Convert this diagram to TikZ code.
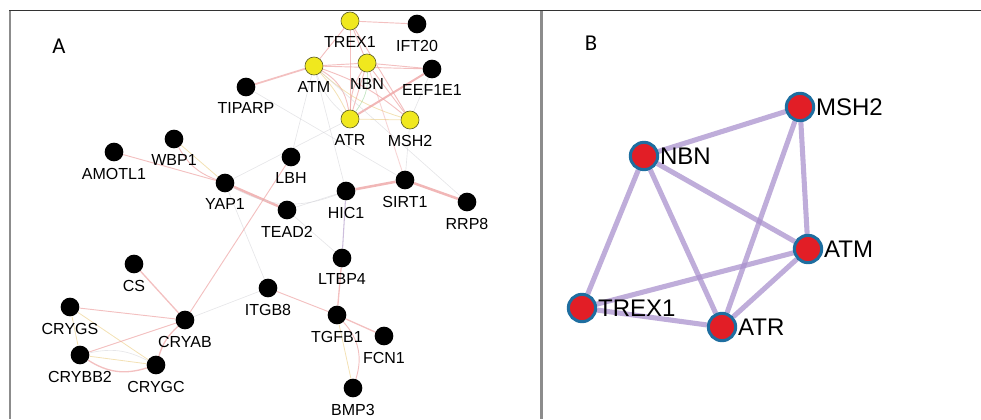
\documentclass[tikz,border=0pt]{standalone}
\usepackage{fontspec}
\setmainfont{Liberation Sans}
\newfontfamily\panelfont{Carlito}
\usetikzlibrary{backgrounds}

\definecolor{pinkE}{RGB}{238,165,165}
\definecolor{grayE}{RGB}{210,210,215}
\definecolor{yelE}{RGB}{235,205,130}
\definecolor{lavE}{RGB}{205,190,220}
\definecolor{genY}{RGB}{240,232,30}
\definecolor{genYline}{RGB}{100,100,40}
\definecolor{hubRed}{RGB}{226,30,38}
\definecolor{hubBlue}{RGB}{30,110,160}
\definecolor{hubEdge}{RGB}{170,145,205}

\tikzset{
  gene/.style={circle,fill=black,inner sep=0pt,minimum size=14pt},
  seed/.style={circle,fill=genY,draw=genYline,line width=0.5pt,inner sep=0pt,minimum size=13.5pt},
  glab/.style={font=\fontsize{12}{12}\selectfont,inner sep=0pt,label distance=4.5pt},
  hub/.style={circle,fill=hubRed,draw=hubBlue,line width=2.3pt,inner sep=0pt,minimum size=20.5pt},
  hlab/.style={font=\fontsize{18}{18}\selectfont,inner sep=0pt,label distance=0.5pt},
  pk/.style={draw=pinkE,line width=0.7pt,opacity=0.7},
  pkt/.style={draw=pinkE,line width=1.9pt,opacity=0.8},
  gy/.style={draw=grayE,line width=0.5pt,opacity=0.55},
  yl/.style={draw=yelE,line width=0.6pt,opacity=0.6},
  lv/.style={draw=lavE,line width=0.8pt},
  hedge/.style={draw=hubEdge,line width=3.8pt,opacity=0.75},
  frameTop/.style={draw=black!80,line width=1.1pt},
  frameSide/.style={draw=black!45,line width=1.6pt},
  panel/.style={font=\panelfont\fontsize{17}{17}\selectfont,inner sep=0pt}
}

\begin{document}
\begin{tikzpicture}[x=0.75pt,y=-0.75pt]
\useasboundingbox (0,0) rectangle (981,419);

% frame
\coordinate (ftl) at (9,10.5);
\coordinate (ftr) at (981,10.5);
\coordinate (fl0) at (10,10);
\coordinate (fl1) at (10,419);
\coordinate (fm0) at (541.5,10);
\coordinate (fm1) at (541.5,419);
\draw[frameSide] (fl0) -- (fl1);
\draw[frameSide] (fm0) -- (fm1);
\draw[frameTop] (ftl) -- (ftr);

\node[panel] (pA) at (59,46) {A};
\node[panel] (pB) at (591,43) {B};

% ---------- network A ----------
\node[seed,label={[glab]below:TREX1}] (trexA) at (350,21) {};
\node[gene,label={[glab]below:IFT20}] (ift) at (417,24) {};
\node[seed,label={[glab]below:ATM}] (atmA) at (314,66) {};
\node[seed,label={[glab]below:NBN}] (nbnA) at (367,63) {};
\node[gene,label={[glab]below:EEF1E1}] (eef) at (432,69) {};
\node[gene,label={[glab]below:TIPARP}] (tip) at (246,87) {};
\node[seed,label={[glab]below:ATR}] (atrA) at (350,119) {};
\node[seed,label={[glab]below:MSH2}] (msh2A) at (410,120) {};
\node[gene,label={[glab]below:WBP1}] (wbp) at (174,139) {};
\node[gene,label={[glab]below:AMOTL1}] (amot) at (114,152) {};
\node[gene,label={[glab]below:LBH}] (lbh) at (291,157) {};
\node[gene,label={[glab]below:YAP1}] (yap) at (225,183) {};
\node[gene,label={[glab]below:SIRT1}] (sirt) at (405,180) {};
\node[gene,label={[glab]below:HIC1}] (hic) at (346,191) {};
\node[gene,label={[glab]below:TEAD2}] (tead) at (287,210) {};
\node[gene,label={[glab]below:RRP8}] (rrp) at (467,202) {};
\node[gene,label={[glab]below:LTBP4}] (ltbp) at (342,258) {};
\node[gene,label={[glab]below:CS}] (cs) at (134,264) {};
\node[gene,label={[glab]below:ITGB8}] (itgb) at (268,288) {};
\node[gene,label={[glab]below:CRYGS}] (crygs) at (70,307) {};
\node[gene,label={[glab]below:CRYAB}] (cryab) at (185,320) {};
\node[gene,label={[glab]below:TGFB1}] (tgfb) at (337,315) {};
\node[gene,label={[glab]below:FCN1}] (fcn) at (384,336) {};
\node[gene,label={[glab]below:CRYBB2}] (crybb) at (80,355) {};
\node[gene,label={[glab]below:CRYGC}] (crygc) at (156,365) {};
\node[gene,label={[glab]below:BMP3}] (bmp) at (353,388) {};

\begin{scope}[on background layer]
  % seed cluster
  \draw[pk] (trexA) -- (ift);
  \draw[pk] (trexA) -- (atmA);
  \draw[pk] (trexA) -- (atrA);
  \draw[pk] (trexA) -- (nbnA);
  \draw[pk] (trexA) -- (msh2A);
  \draw[pk] (atmA) -- (nbnA);
  \draw[pk] (atmA) -- (eef);
  \draw[pk,line width=1.3pt] (atmA) -- (tip);
  \draw[pk] (atmA) to[bend left=25] (atrA);
  \draw[yl] (atmA) to[bend left=8] (atrA);
  \draw[gy] (atmA) to[bend right=15] (atrA);
  \draw[pk] (atmA) to[bend left=10] (msh2A);
  \draw[yl] (atmA) to[bend right=12] (msh2A);
  \draw[pk] (nbnA) -- (atrA);
  \draw[draw=green!40!gray,line width=0.5pt,opacity=0.35] (nbnA) to[bend left=20] (atrA);
  \draw[pk] (nbnA) to[bend right=15] (atrA);
  \draw[pk] (nbnA) -- (msh2A);
  \draw[pk] (nbnA) -- (eef);
  \draw[pkt,line width=1.5pt] (atrA) -- (eef);
  \draw[yl] (atrA) -- (msh2A);
  \draw[gy] (eef) -- (msh2A);
  % links to the rest of the network
  \draw[gy] (atmA) -- (lbh);
  \draw[gy] (tip) -- (sirt);
  \draw[gy] (atrA) -- (yap);
  \draw[pk,opacity=0.45] (nbnA) -- (sirt);
  \draw[gy] (msh2A) -- (sirt);
  \draw[gy] (atmA) -- (rrp);
  \draw[gy] (atmA) -- (hic);
  % YAP1 / TEAD2 module
  \draw[pk] (amot) -- (yap);
  \draw[pk] (wbp) to[bend right=20] (yap);
  \draw[yl] (wbp) -- (yap);
  \draw[pkt] (yap) -- (tead);
  \draw[gy] (yap) to[bend right=25] (hic);
  \draw[gy] (yap) -- (itgb);
  \draw[pk] (lbh) -- (cryab);
  \draw[gy] (tead) -- (hic);
  \draw[gy] (tead) -- (ltbp);
  \draw[pkt] (hic) -- (sirt);
  \draw[lv] (hic) -- (ltbp);
  \draw[pkt] (sirt) -- (rrp);
  % TGFB1 module
  \draw[pk,line width=1pt] (ltbp) -- (tgfb);
  \draw[pk] (itgb) -- (tgfb);
  \draw[gy] (itgb) -- (cryab);
  \draw[pk,line width=1pt] (tgfb) -- (fcn);
  \draw[pk] (tgfb) to[bend left=30] (bmp);
  \draw[yl] (tgfb) -- (bmp);
  % crystallin module
  \draw[pk,line width=1pt] (cs) -- (cryab);
  \draw[pk] (crygs) -- (cryab);
  \draw[yl] (crygs) -- (crybb);
  \draw[yl] (crygs) -- (crygc);
  \draw[pk] (crybb) -- (cryab);
  \draw[pk,line width=1pt] (crybb) to[bend right=25] (crygc);
  \draw[gy] (crybb) to[bend left=20] (crygc);
  \draw[yl] (crybb) -- (crygc);
  \draw[pk,line width=1pt] (cryab) to[bend right=15] (crygc);
\end{scope}

% ---------- network B ----------
\node[hub,label={[hlab]right:MSH2}] (msh2B) at (800,107) {};
\node[hub,label={[hlab]right:NBN}] (nbnB) at (644,156) {};
\node[hub,label={[hlab]right:ATM}] (atmB) at (808,249) {};
\node[hub,label={[hlab]right:TREX1}] (trexB) at (582,308) {};
\node[hub,label={[hlab]right:ATR}] (atrB) at (722,327) {};

\begin{scope}[on background layer]
  \draw[hedge] (msh2B) -- (nbnB);
  \draw[hedge] (msh2B) -- (atmB);
  \draw[hedge] (msh2B) -- (atrB);
  \draw[hedge] (nbnB) -- (atmB);
  \draw[hedge] (nbnB) -- (trexB);
  \draw[hedge] (nbnB) -- (atrB);
  \draw[hedge] (atmB) -- (trexB);
  \draw[hedge] (atmB) -- (atrB);
  \draw[hedge] (trexB) -- (atrB);
\end{scope}
\end{tikzpicture}
\end{document}
